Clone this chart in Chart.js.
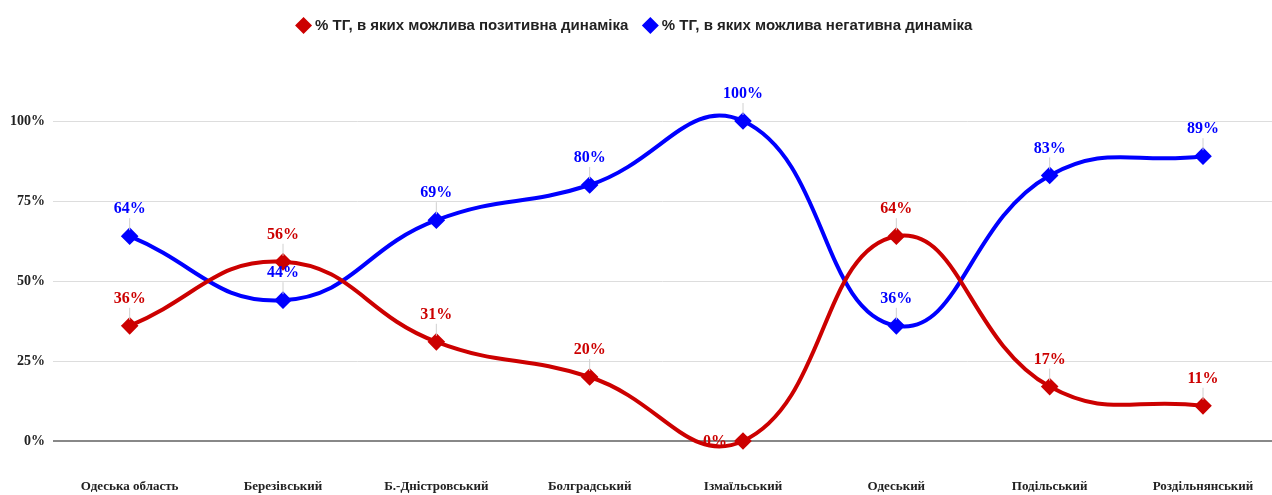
<!DOCTYPE html>
<html>
<head>
<meta charset="utf-8">
<script src="https://cdn.jsdelivr.net/npm/chart.js@4.4.1/dist/chart.umd.min.js"></script>
<style>
  html, body { margin: 0; padding: 0; background: #fff; overflow: hidden; }
  canvas { display: block; }
</style>
</head>
<body>
<canvas id="chart" width="1272" height="495"></canvas>
<script>
// Data
const districts = ["Одеська область", "Березівський", "Б.-Дністровський", "Болградський",
  "Ізмаїльський", "Одеський", "Подільський", "Роздільнянський"];
const positiveShare = [36, 56, 31, 20, 0, 64, 17, 11];
const negativeShare = [64, 44, 69, 80, 100, 36, 83, 89];
const yTicks = [0, 25, 50, 75, 100];

const RED = "#cc0000";
const BLUE = "#0000ff";

const toPoints = arr => arr.map((v, i) => ({ x: i, y: v }));

/* value labels with thin leader lines */
const valueLabels = {
  id: "valueLabels",
  afterDatasetsDraw(chart) {
    const ctx = chart.ctx;
    ctx.save();
    ctx.font = "bold 16px 'Liberation Serif', serif";
    ctx.textAlign = "center";
    ctx.textBaseline = "middle";
    chart.data.datasets.forEach((ds, i) => {
      const meta = chart.getDatasetMeta(i);
      meta.data.forEach((pt, j) => {
        const v = ds.data[j].y;
        let tx = pt.x, ty = pt.y - 27;
        if (v === 0) {
          // label pushed to the left of the point on the baseline
          tx = pt.x - 28; ty = pt.y + 1;
        } else {
          ctx.strokeStyle = "#d0d0d0";
          ctx.lineWidth = 1;
          ctx.beginPath();
          ctx.moveTo(pt.x, pt.y - 6);
          ctx.lineTo(pt.x, ty + 9);
          ctx.stroke();
        }
        ctx.fillStyle = ds.borderColor;
        ctx.fillText(v + "%", tx, ty);
      });
    });
    ctx.restore();
  }
};

/* push the plot down below the legend */
const legendGap = {
  id: "legendGap",
  beforeInit(chart) {
    const fit = chart.legend.fit;
    chart.legend.fit = function () {
      fit.bind(chart.legend)();
      this.height += 78;
    };
  }
};

new Chart(document.getElementById("chart"), {
  type: "line",
  data: {
    datasets: [
      {
        label: "% ТГ, в яких можлива позитивна динаміка",
        data: toPoints(positiveShare),
        borderColor: RED,
        backgroundColor: RED,
        borderWidth: 4,
        pointStyle: "rectRot",
        pointRadius: 6,
        tension: 0.45,
        clip: false
      },
      {
        label: "% ТГ, в яких можлива негативна динаміка",
        data: toPoints(negativeShare),
        borderColor: BLUE,
        backgroundColor: BLUE,
        borderWidth: 4,
        pointStyle: "rectRot",
        pointRadius: 6,
        tension: 0.45,
        clip: false
      }
    ]
  },
  options: {
    responsive: false,
    animation: false,
    layout: { padding: 0, autoPadding: false },
    elements: { line: { capBezierPoints: false } },
    plugins: {
      legend: {
        position: "top",
        labels: {
          usePointStyle: true,
          pointStyle: "rectRot",
          boxWidth: 8,
          boxHeight: 8,
          padding: 18,
          color: "#222",
          font: { family: "'Liberation Sans', Arial, sans-serif", size: 15, weight: "bold" }
        }
      },
      tooltip: { enabled: false }
    },
    scales: {
      x: {
        type: "linear",
        min: -0.5,
        max: 7.45,
        afterBuildTicks: axis => { axis.ticks = districts.map((_, i) => ({ value: i })); },
        afterFit: axis => {
          axis.height = 54;
          axis.paddingLeft = 0;
          axis.paddingRight = 0;
        },
        grid: { display: false },
        border: { display: false },
        ticks: {
          padding: 30,
          maxRotation: 0,
          autoSkip: false,
          color: "#222",
          callback: v => districts[v],
          font: { family: "'Liberation Serif', serif", size: 13, weight: "bold" }
        }
      },
      y: {
        min: 0,
        max: 100,
        afterFit: axis => { axis.width = 53; },
        afterBuildTicks: axis => { axis.ticks = yTicks.map(v => ({ value: v })); },
        border: { display: false },
        grid: {
          color: ctx => ctx.tick && ctx.tick.value === 0 ? "#888" : "#ddd",
          lineWidth: ctx => ctx.tick && ctx.tick.value === 0 ? 2 : 1,
          drawTicks: false
        },
        ticks: {
          padding: 8,
          color: "#222",
          callback: v => v + "%",
          font: { family: "'Liberation Serif', serif", size: 14, weight: "bold" }
        }
      }
    }
  },
  plugins: [valueLabels, legendGap]
});
</script>
</body>
</html>
